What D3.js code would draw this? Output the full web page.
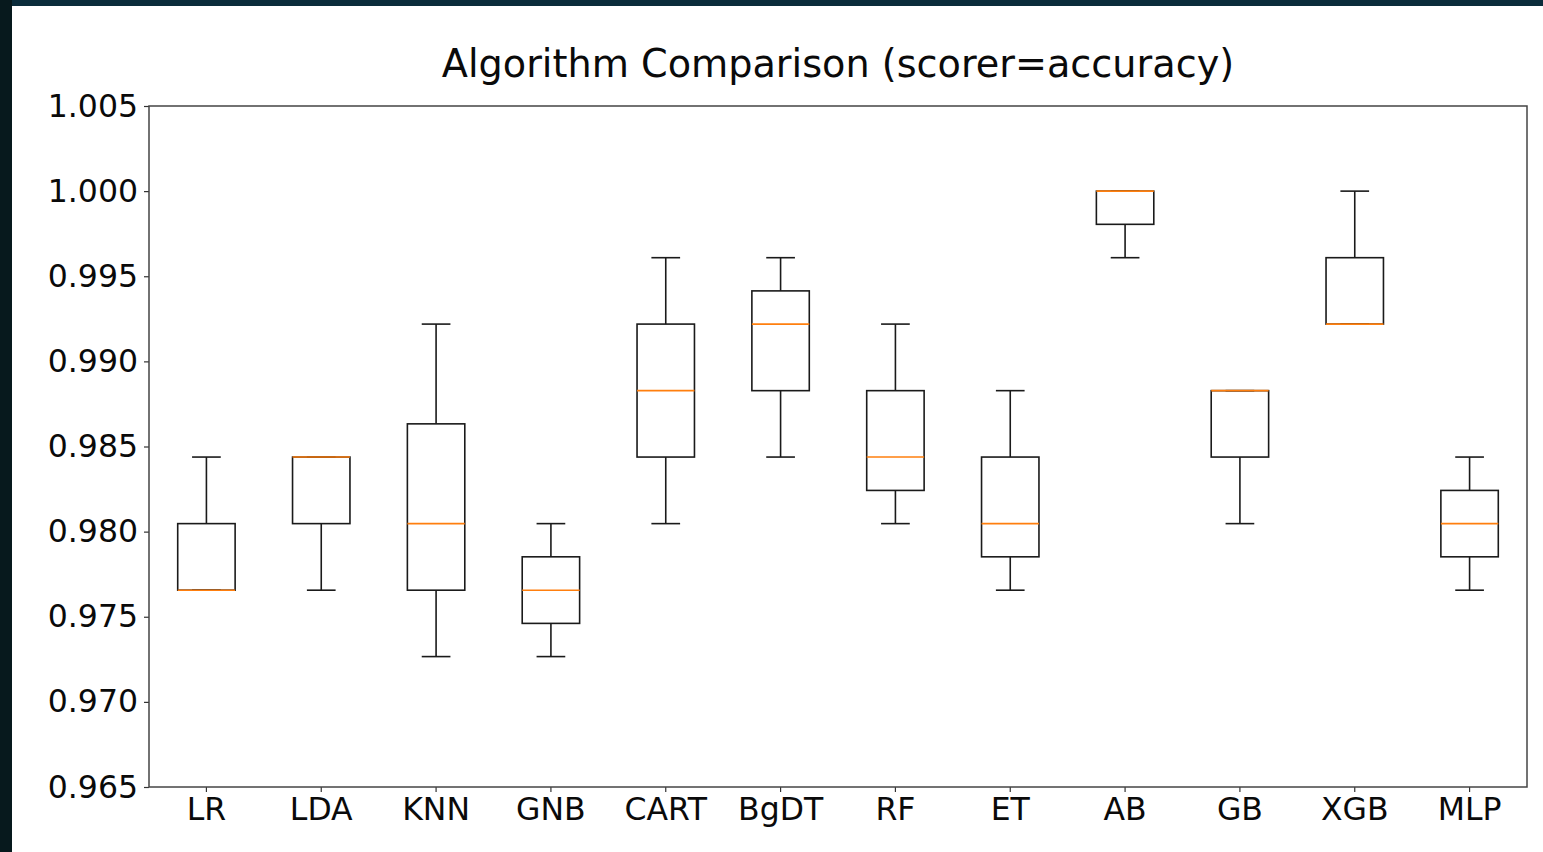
<!DOCTYPE html>
<html>
<head>
<meta charset="utf-8">
<script src="https://cdn.jsdelivr.net/npm/d3@7"></script>
<style>
  html, body { margin: 0; padding: 0; background: #ffffff; }
  svg { display: block; }
</style>
</head>
<body>
<svg id="chart" width="1543" height="852"></svg>
<script>
// ---- data ----
const categories = ["LR","LDA","KNN","GNB","CART","BgDT","RF","ET","AB","GB","XGB","MLP"];
const whiskerLow  = [0.97656,0.97656,0.97266,0.97266,0.98047,0.98438,0.98047,0.97656,0.99609,0.98047,0.99219,0.97656];
const q1Values    = [0.97656,0.98047,0.97656,0.97461,0.98438,0.98828,0.98242,0.97852,0.99805,0.98438,0.99219,0.97852];
const medians     = [0.97656,0.98438,0.98047,0.97656,0.98828,0.99219,0.98438,0.98047,1.00000,0.98828,0.99219,0.98047];
const q3Values    = [0.98047,0.98438,0.98633,0.97852,0.99219,0.99414,0.98828,0.98438,1.00000,0.98828,0.99609,0.98242];
const whiskerHigh = [0.98438,0.98438,0.99219,0.98047,0.99609,0.99609,0.99219,0.98828,1.00000,0.98828,1.00000,0.98438];
const yTicks = [0.965,0.970,0.975,0.980,0.985,0.990,0.995,1.000,1.005];
const title = "Algorithm Comparison (scorer=accuracy)";

const svg = d3.select("#chart");
const W = 1543, H = 852;
const font = "'DejaVu Sans', sans-serif";

// page frame (dark edges of the screenshot)
svg.append("rect").attr("x",0).attr("y",0).attr("width",W).attr("height",H).attr("fill","#ffffff");
svg.append("rect").attr("x",0).attr("y",0).attr("width",W).attr("height",6).attr("fill","#0b2c3b");
svg.append("rect").attr("x",0).attr("y",0).attr("width",12).attr("height",H).attr("fill","#07191d");

const plot = {left:149, right:1527, top:106, bottom:787};

const x = d3.scaleBand().domain(categories).range([plot.left, plot.right]).paddingInner(0).paddingOuter(0);
const y = d3.scaleLinear().domain([0.965, 1.005]).range([plot.bottom, plot.top]);

const bw = x.bandwidth();
const boxW = bw * 0.5;
const capW = bw * 0.25;
const cx = c => x(c) + bw / 2;

// axes
const yAxis = d3.axisLeft(y).tickValues(yTicks).tickFormat(d3.format(".3f")).tickSizeOuter(0).tickSize(5).tickPadding(6);
const xAxis = d3.axisBottom(x).tickSizeOuter(0).tickSize(5).tickPadding(5);

const gy = svg.append("g").attr("transform",`translate(${plot.left},0)`).call(yAxis);
const gx = svg.append("g").attr("transform",`translate(0,${plot.bottom})`).call(xAxis);
[gy, gx].forEach(g => {
  g.select(".domain").remove();
  g.selectAll(".tick line").attr("stroke","#333").attr("stroke-width",1.2);
  g.selectAll(".tick text").attr("font-family",font).attr("font-size",31.5).attr("fill","#0a0a0a");
});
gx.selectAll(".tick text").attr("dy","0.74em");

// frame
svg.append("rect")
  .attr("x",plot.left).attr("y",plot.top)
  .attr("width",plot.right-plot.left).attr("height",plot.bottom-plot.top)
  .attr("fill","none").attr("stroke","#444").attr("stroke-width",1.5);

// boxes
const data = categories.map((c,i) => ({c, lo:whiskerLow[i], q1:q1Values[i], med:medians[i], q3:q3Values[i], hi:whiskerHigh[i]}));
const g = svg.append("g");
const stroke = "#1a1a1a", sw = 1.6;

const b = g.selectAll("g.box").data(data).join("g").attr("class","box");
// whiskers
b.append("line").attr("x1",d=>cx(d.c)).attr("x2",d=>cx(d.c)).attr("y1",d=>y(d.lo)).attr("y2",d=>y(d.q1)).attr("stroke",stroke).attr("stroke-width",sw);
b.append("line").attr("x1",d=>cx(d.c)).attr("x2",d=>cx(d.c)).attr("y1",d=>y(d.q3)).attr("y2",d=>y(d.hi)).attr("stroke",stroke).attr("stroke-width",sw);
// caps
b.append("line").attr("x1",d=>cx(d.c)-capW/2).attr("x2",d=>cx(d.c)+capW/2).attr("y1",d=>y(d.lo)).attr("y2",d=>y(d.lo)).attr("stroke",stroke).attr("stroke-width",sw);
b.append("line").attr("x1",d=>cx(d.c)-capW/2).attr("x2",d=>cx(d.c)+capW/2).attr("y1",d=>y(d.hi)).attr("y2",d=>y(d.hi)).attr("stroke",stroke).attr("stroke-width",sw);
// box
b.append("rect").attr("x",d=>cx(d.c)-boxW/2).attr("width",boxW)
  .attr("y",d=>y(d.q3)).attr("height",d=>Math.max(0,y(d.q1)-y(d.q3)))
  .attr("fill","none").attr("stroke",stroke).attr("stroke-width",sw);
// median
b.append("line").attr("x1",d=>cx(d.c)-boxW/2).attr("x2",d=>cx(d.c)+boxW/2).attr("y1",d=>y(d.med)).attr("y2",d=>y(d.med)).attr("stroke","#ff7f0e").attr("stroke-width",sw);

// title
svg.append("text").attr("x",(plot.left+plot.right)/2).attr("y",77)
  .attr("text-anchor","middle").attr("font-family",font).attr("font-size",38.2).attr("fill","#0a0a0a")
  .text(title);
</script>
</body>
</html>
